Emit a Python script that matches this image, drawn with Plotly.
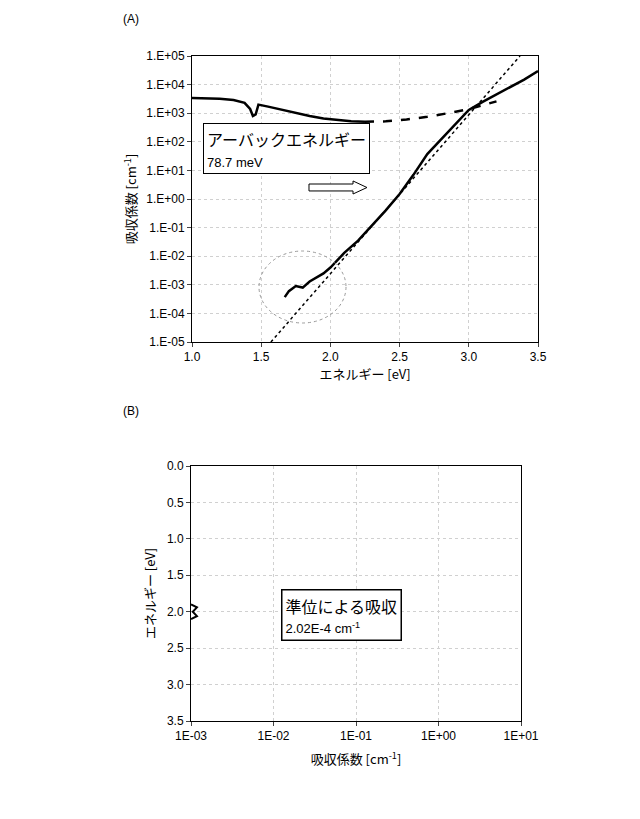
import plotly.graph_objects as go

# (A) absorption spectrum
upper_e = [1.0, 1.1, 1.2, 1.3, 1.38, 1.42, 1.44, 1.46, 1.48, 1.55, 1.65, 1.75, 1.85, 1.95, 2.05, 2.15, 2.25]
upper_a = [3.4e3, 3.4e3, 3.2e3, 2.9e3, 2.3e3, 1.4e3, 8e2, 9e2, 2.0e3, 1.7e3, 1.3e3, 1.0e3, 8e2, 6.5e2, 5.8e2, 5.2e2, 5.0e2]
dash_e = [2.25, 2.4, 2.55, 2.7, 2.85, 3.0, 3.1, 3.2]
dash_a = [5.0e2, 5.2e2, 6.0e2, 7.5e2, 1.0e3, 1.4e3, 1.9e3, 2.6e3]
lower_e = [1.67, 1.7, 1.75, 1.8, 1.85, 1.9, 1.95, 2.0, 2.1, 2.2, 2.3, 2.4, 2.5, 2.6, 2.7, 2.8, 2.9, 3.0, 3.1, 3.2, 3.3, 3.4, 3.5]
lower_a = [3.7e-4, 6e-4, 9e-4, 8e-4, 1.3e-3, 1.8e-3, 2.5e-3, 4e-3, 1.3e-2, 3.5e-2, 1.2e-1, 4e-1, 1.5e0, 7e0, 3.7e1, 1.2e2, 4e2, 1.3e3, 2.5e3, 4.5e3, 8e3, 1.5e4, 3e4]
fit_e = [1.57, 3.37]
fit_a = [1e-5, 1e5]
a_ticks = [1e-5, 1e-4, 1e-3, 1e-2, 1e-1, 1e0, 1e1, 1e2, 1e3, 1e4, 1e5]
a_labels = ["1.E-05", "1.E-04", "1.E-03", "1.E-02", "1.E-01", "1.E+00", "1.E+01", "1.E+02", "1.E+03", "1.E+04", "1.E+05"]

# (B) defect-level absorption
level_a = [1.0e-3, 1.18e-3, 1.05e-3, 1.18e-3, 1.0e-3]
level_e = [1.9, 1.94, 2.0, 2.06, 2.1]
b_ticks = [1e-3, 1e-2, 1e-1, 1e0, 1e1]
b_labels = ["1E-03", "1E-02", "1E-01", "1E+00", "1E+01"]

num_font = dict(family="Liberation Sans, Arial", size=12, color="black")
jp_font = dict(family="Noto Sans CJK JP", size=13, color="black")
grid = dict(showgrid=True, gridcolor="#d0d0d0", griddash="dot", gridwidth=1, automargin=False,
            ticks="outside", ticklen=4, linecolor="black", mirror=True, tickfont=num_font)

W, H = 640, 819
dx, dy = 7, 7  # page offset compensation


def px(x):
    return (x - dx) / W


def py(y):
    return 1 - (y - dy) / H


fig = go.Figure()
fig.add_trace(go.Scatter(x=upper_e, y=upper_a, mode="lines", line=dict(color="black", width=2.5), xaxis="x", yaxis="y"))
fig.add_trace(go.Scatter(x=dash_e, y=dash_a, mode="lines", line=dict(color="black", width=2.5, dash="dash"), xaxis="x", yaxis="y"))
fig.add_trace(go.Scatter(x=lower_e, y=lower_a, mode="lines", line=dict(color="black", width=2.5), xaxis="x", yaxis="y"))
fig.add_trace(go.Scatter(x=fit_e, y=fit_a, mode="lines", line=dict(color="black", width=1.5, dash="dot"), xaxis="x", yaxis="y"))
fig.add_trace(go.Scatter(x=level_a, y=level_e, mode="lines", line=dict(color="black", width=2), xaxis="x2", yaxis="y2"))

fig.update_layout(
    width=W, height=H, showlegend=False,
    paper_bgcolor="white", plot_bgcolor="white",
    margin=dict(l=0, r=0, t=0, b=0),
    xaxis=dict(domain=[px(191), px(537)], range=[1.0, 3.5], dtick=0.5, tickformat=".1f",
               anchor="y", zeroline=False, **grid,
               title=dict(text="エネルギー [eV]", font=jp_font, standoff=4)),
    yaxis=dict(domain=[py(341), py(55)], type="log", range=[-5, 5], tickvals=a_ticks, ticktext=a_labels,
               anchor="x", **grid,
               title=dict(text="吸収係数 [cm<sup>-1</sup>]", font=jp_font, standoff=6)),
    xaxis2=dict(domain=[px(190), px(520)], type="log", range=[-3, 1], tickvals=b_ticks, ticktext=b_labels,
                anchor="y2", **grid,
                title=dict(text="吸収係数 [cm<sup>-1</sup>]", font=jp_font, standoff=12)),
    yaxis2=dict(domain=[py(720), py(465)], range=[3.5, 0], dtick=0.5, tickformat=".1f",
                anchor="x2", zeroline=False, **grid,
                title=dict(text="エネルギー [eV]", font=jp_font, standoff=8)),
)

fig.add_shape(type="circle", xref="paper", yref="paper", x0=px(258), x1=px(345),
              y0=py(322), y1=py(250), line=dict(color="#999999", width=1, dash="dot"))
# hollow arrow
ax = [308, 352, 352, 366, 352, 352, 308]
ay = [183, 183, 180, 186.5, 193, 190, 190]
path = "M " + " L ".join(f"{px(x):.4f} {py(y):.4f}" for x, y in zip(ax, ay)) + " Z"
fig.add_shape(type="path", xref="paper", yref="paper", path=path,
              line=dict(color="black", width=1), fillcolor="white")

fig.add_annotation(xref="x", yref="y", x=1.08, y=1.75, xanchor="left", yanchor="middle", align="left",
                   text="アーバックエネルギー<br><span style='font-family:Liberation Sans;font-size:13px'>78.7 meV</span>",
                   showarrow=False, font=dict(family="Noto Sans CJK JP", size=16, color="black"),
                   bordercolor="black", borderwidth=1, borderpad=3, bgcolor="white")
fig.add_annotation(xref="x2", yref="y2", x=-1.17, y=2.05, xanchor="center", yanchor="middle", align="left",
                   text="準位による吸収<br><span style='font-family:Liberation Sans;font-size:13px'>2.02E-4 cm<sup>-1</sup></span>",
                   showarrow=False, font=dict(family="Noto Sans CJK JP", size=16, color="black"),
                   bordercolor="black", borderwidth=1.5, borderpad=3, bgcolor="white")
fig.add_annotation(xref="paper", yref="paper", x=px(120), y=py(18), text="(A)", showarrow=False,
                   xanchor="left", yanchor="middle", font=num_font)
fig.add_annotation(xref="paper", yref="paper", x=px(120), y=py(410), text="(B)", showarrow=False,
                   xanchor="left", yanchor="middle", font=num_font)

fig.write_html("out.html")
